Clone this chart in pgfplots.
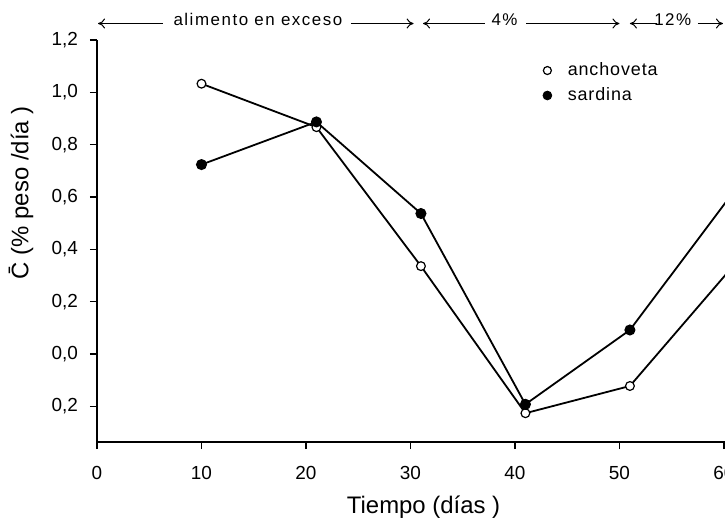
\documentclass[border=0pt]{standalone}
\usepackage{fontspec}
\setmainfont{Liberation Sans}
\usepackage{pgfplots}
\pgfplotsset{compat=1.18}
\usetikzlibrary{arrows.meta}
\begin{document}
\begin{tikzpicture}
\useasboundingbox (-48.5bp,-41bp) rectangle (314bp,221bp);
\clip (-48.5bp,-41bp) rectangle (314bp,221bp);
\begin{axis}[
  scale only axis, width=314bp, height=201bp,
  xmin=0, xmax=60.1, ymin=-0.336, ymax=1.2,
  axis x line*=bottom, axis y line*=left,
  axis line style={line width=0.8bp, black},
  tick align=outside, major tick length=3.5bp,
  tick style={black, line width=0.6bp},
  xtick={0,10,20,30,40,50,60},
  xticklabels={0,10,20,30,40,50,60},
  ytick={-0.2,0,0.2,0.4,0.6,0.8,1.0,1.2},
  yticklabels={{0,2},{0,0},{0,2},{0,4},{0,6},{0,8},{1,0},{1,2}},
  ticklabel style={font=\fontsize{9.5}{11}\selectfont},
  xticklabel style={yshift=-5bp},
  yticklabel style={xshift=-2.5bp},
  clip=false,
  xlabel={Tiempo (días )},
  xlabel style={at={(rel axis cs:0.52,0)}, anchor=center, yshift=-32.5bp, font=\fontsize{12}{14}\selectfont},
  ylabel={\={C} (\% peso /día )},
  ylabel style={at={(rel axis cs:-0.121,0.62)}, anchor=center, font=\fontsize{12}{14}\selectfont},
  legend style={draw=none, fill=none, at={(rel axis cs:0.700,0.893)}, anchor=west,
    font=\addfontfeature{LetterSpace=5}\fontsize{9}{11}\selectfont, row sep=0.5bp,
    legend cell align=left,
    /tikz/every odd column/.append style={column sep=6bp}},
  legend image code/.code={\draw[#1] plot coordinates {(2bp,0bp)};},
]
\addplot[black, line width=0.9bp, mark=*, mark size=2.2bp, mark options={fill=white, line width=0.6bp}, forget plot]
  coordinates {(10,1.033)(21,0.867)(31,0.336)(41,-0.226)(51,-0.122)(61,0.342)};
\addplot[black, line width=0.9bp, mark=*, mark size=2.3bp, mark options={fill=black}, forget plot]
  coordinates {(10,0.724)(21,0.887)(31,0.537)(41,-0.192)(51,0.092)(61,0.624)};
\addlegendimage{only marks, black, mark=*, mark size=2bp, mark options={fill=white, line width=0.6bp}}
\addlegendentry{anchoveta}
\addlegendimage{only marks, black, mark=*, mark size=2.2bp, mark options={fill=black}}
\addlegendentry{sardina}
\begin{scope}[line width=0.5bp, >={To[length=3.5bp,width=5bp]}, font=\addfontfeature{LetterSpace=9}\fontsize{8.5}{10}\selectfont]
\draw[<-] (axis cs:0.1,1.263) -- (axis cs:6.3,1.263);
\node[anchor=base, inner sep=0pt] at (axis cs:15.4,1.256) {alimento en exceso};
\draw[->] (axis cs:24.3,1.263) -- (axis cs:30.3,1.263);
\draw[<-] (axis cs:31.2,1.263) -- (axis cs:37.1,1.263);
\node[anchor=base, inner sep=0pt] at (axis cs:39.0,1.256) {4\%};
\draw[->] (axis cs:41.1,1.263) -- (axis cs:50.0,1.263);
\draw[<-] (axis cs:51.0,1.263) -- (axis cs:53.6,1.263);
\node[anchor=base, inner sep=0pt] at (axis cs:55.1,1.256) {12\%};
\draw[->] (axis cs:57.5,1.263) -- (axis cs:59.9,1.263);
\end{scope}
\end{axis}
\end{tikzpicture}
\end{document}
